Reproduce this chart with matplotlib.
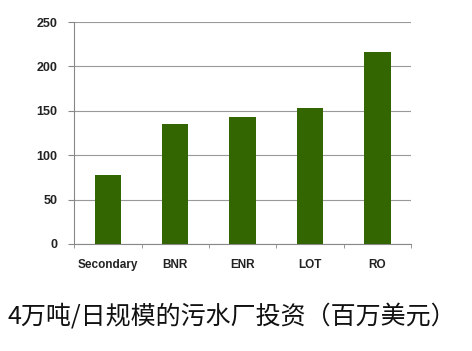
import matplotlib.pyplot as plt
import numpy as np

categories = ["Secondary", "BNR", "ENR", "LOT", "RO"]
investment = [78, 135, 143, 153, 216]
title = "4万吨/日规模的污水厂投资（百万美元）"

plt.rcParams['font.family'] = ['Noto Sans CJK SC', 'DejaVu Sans']

fig = plt.figure(figsize=(4.72, 3.51), dpi=100)
ax = fig.add_axes([0.157, 0.305, 0.714, 0.632])

x = np.arange(len(categories))
ax.bar(x, investment, width=0.39, color="#336600", zorder=3)

ax.set_xlim(-0.5, len(categories) - 0.5)
ax.set_ylim(0, 250)
ax.set_yticks([0, 50, 100, 150, 200, 250])
ax.yaxis.grid(True, color="#999999", linewidth=0.8, zorder=0)

ax.set_xticks(x)
ax.set_xticklabels(categories, fontsize=8.5, fontweight="bold", color="#222222",
                   family=["Liberation Sans", "DejaVu Sans"])
ax.set_xticks(np.arange(-0.5, len(categories)), minor=True)
ax.tick_params(axis="x", which="major", length=0, pad=11)
ax.tick_params(axis="x", which="minor", length=3, color="#888888")
ax.tick_params(axis="y", length=4, color="#888888", labelsize=9, pad=8)
for lbl in ax.get_yticklabels():
    lbl.set_fontweight("bold")
    lbl.set_color("#222222")
    lbl.set_family(["Liberation Sans", "DejaVu Sans"])

for s in ["top", "right"]:
    ax.spines[s].set_visible(False)
ax.spines["left"].set_color("#888888")
ax.spines["bottom"].set_color("#888888")

fig.text(0.015, 0.098, title, fontsize=18, color="#111111", va="center")

fig.savefig("out.png", dpi=100)
